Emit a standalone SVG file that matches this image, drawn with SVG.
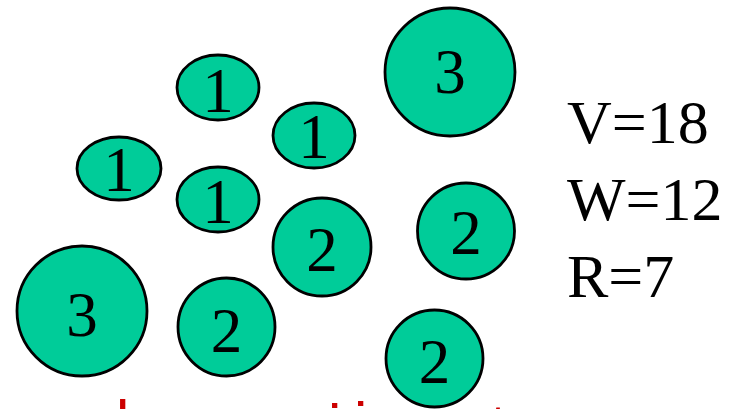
<svg xmlns="http://www.w3.org/2000/svg" width="736" height="409" viewBox="0 0 736 409">
<style>
.n ellipse{fill:#00CC99;stroke:#000;stroke-width:2.8}
.n text{font-family:'Liberation Serif','Times New Roman',serif;font-size:63px;fill:#000;text-anchor:middle}
.lbl{font-family:'Liberation Serif','Times New Roman',serif;font-size:62px;fill:#000}
.red{font-family:'Liberation Sans',Arial,sans-serif;font-size:60px;fill:#CC0000}
</style>
<rect width="736" height="409" fill="#fff"/>
<g id="connectors"></g>
<g id="n3a" class="n"><ellipse cx="450" cy="72" rx="65" ry="64"/><text x="450" y="93">3</text></g>
<g id="n1a" class="n"><ellipse cx="218" cy="87.5" rx="41" ry="32.5"/><text x="218" y="112">1</text></g>
<g id="n1b" class="n"><ellipse cx="314" cy="135.5" rx="41" ry="32.5"/><text x="314" y="158">1</text></g>
<g id="n1c" class="n"><ellipse cx="119" cy="168.5" rx="42" ry="31.5"/><text x="119" y="191">1</text></g>
<g id="n1d" class="n"><ellipse cx="218" cy="199.5" rx="41" ry="32.5"/><text x="218" y="223">1</text></g>
<g id="n2a" class="n"><ellipse cx="322" cy="247" rx="49" ry="49"/><text x="322" y="271">2</text></g>
<g id="n2b" class="n"><ellipse cx="466" cy="231" rx="48.5" ry="48"/><text x="466" y="254">2</text></g>
<g id="n3b" class="n"><ellipse cx="82" cy="311" rx="65" ry="65"/><text x="82" y="336">3</text></g>
<g id="n2c" class="n"><ellipse cx="226.5" cy="327" rx="48.5" ry="49"/><text x="226.5" y="352">2</text></g>
<g id="n2d" class="n"><ellipse cx="434.5" cy="358.5" rx="48.5" ry="48.5"/><text x="434.5" y="383">2</text></g>
<g id="legend">
<text class="lbl" x="567" y="143">V=18</text>
<text class="lbl" x="567" y="220">W=12</text>
<text class="lbl" x="567" y="297">R=7</text>
</g>
<g id="cut-text">
<text class="red" x="116" y="442">l</text>
<text class="red" x="328" y="446">i</text>
<text class="red" x="354" y="444">i</text>
<text class="red" x="490" y="446">t</text>
</g>
</svg>
